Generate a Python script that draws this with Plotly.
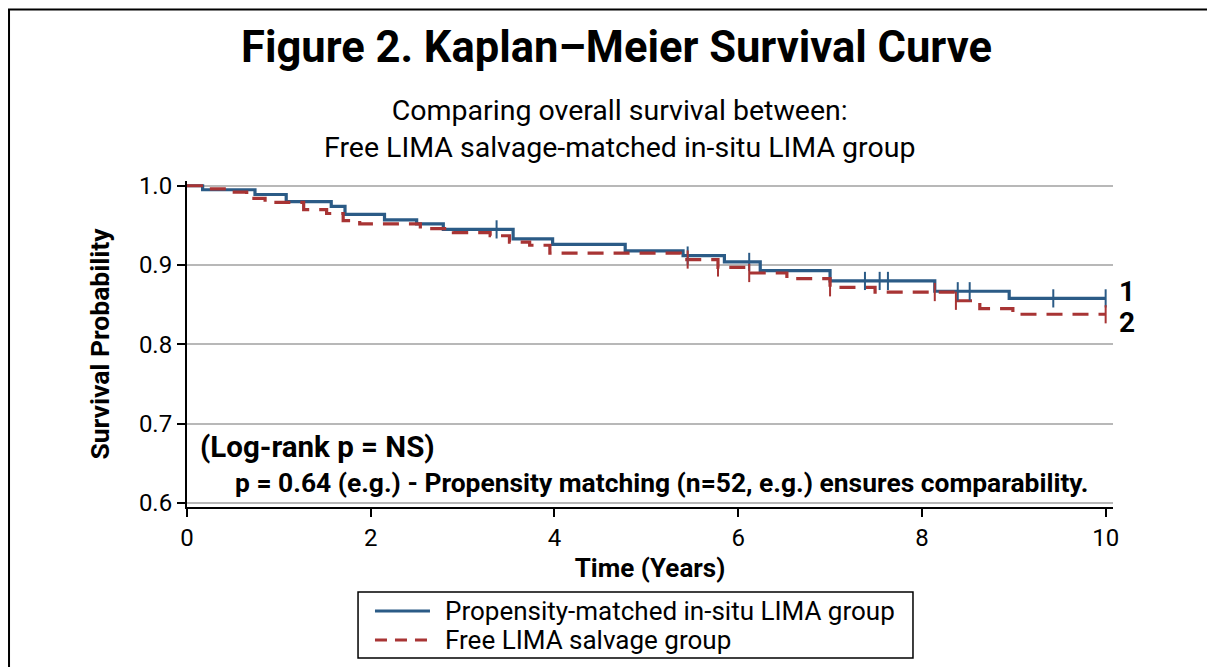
import plotly.graph_objects as go
import numpy as np

# ---- Data ----
group_a_name = "Propensity-matched in-situ LIMA group"
time_a = [0, 0.17, 0.74, 1.08, 1.57, 1.72, 2.15, 2.50, 2.79, 3.55, 3.98, 4.77, 5.40, 5.85, 6.24, 7.00, 8.14, 8.95, 10.0]
surv_a = [1.0, 0.995, 0.989, 0.980, 0.974, 0.964, 0.957, 0.952, 0.945, 0.933, 0.926, 0.918, 0.912, 0.904, 0.893, 0.880, 0.867, 0.858, 0.858]
cens_a = [3.37, 5.45, 6.12, 7.38, 7.54, 7.63, 8.39, 8.52, 9.43, 10.0]

group_b_name = "Free LIMA salvage group"
time_b = [0, 0.20, 0.43, 0.65, 0.85, 1.27, 1.52, 1.70, 1.88, 2.54, 2.90, 3.30, 3.51, 3.73, 3.95, 5.37, 5.78, 6.12, 6.53, 7.00, 7.49, 8.37, 8.63, 8.99, 10.0]
surv_b = [1.0, 0.996, 0.992, 0.984, 0.979, 0.970, 0.965, 0.956, 0.952, 0.946, 0.941, 0.937, 0.929, 0.925, 0.915, 0.907, 0.897, 0.890, 0.883, 0.872, 0.866, 0.855, 0.845, 0.838, 0.838]
cens_b = [5.45, 5.78, 6.12, 7.00, 8.14, 8.37, 10.0]

x_ticks = [0, 2, 4, 6, 8, 10]
y_ticks = [0.6, 0.7, 0.8, 0.9, 1.0]

BLUE = "#2b5b86"
RED = "#a83434"
DASH = "16px,10px"
FONT = "Roboto"


def step_value(times, surv, t):
    idx = np.searchsorted(np.array(times), t, side="right") - 1
    return surv[max(idx, 0)]


fig = go.Figure()
fig.add_trace(go.Scatter(x=time_a, y=surv_a, mode="lines", line_shape="hv",
                         line=dict(color=BLUE, width=3.2), name=group_a_name, showlegend=False))
fig.add_trace(go.Scatter(x=time_b, y=surv_b, mode="lines", line_shape="hv",
                         line=dict(color=RED, width=3.2, dash=DASH), name=group_b_name, showlegend=False))
fig.add_trace(go.Scatter(x=cens_a, y=[step_value(time_a, surv_a, t) for t in cens_a], mode="markers",
                         marker=dict(symbol="line-ns", size=13, line=dict(color=BLUE, width=2)),
                         showlegend=False, hoverinfo="skip"))
fig.add_trace(go.Scatter(x=cens_b, y=[step_value(time_b, surv_b, t) for t in cens_b], mode="markers",
                         marker=dict(symbol="line-ns", size=13, line=dict(color=RED, width=2)),
                         showlegend=False, hoverinfo="skip"))

fig.update_layout(
    width=1215, height=667,
    margin=dict(l=179, r=110, t=173, b=168, autoexpand=False),
    paper_bgcolor="white", plot_bgcolor="white",
    font=dict(family=FONT, color="black"),
    showlegend=False,
    title=dict(text="<b>Figure 2. Kaplan\u2013Meier Survival Curve</b>", x=0.5008, xanchor="center",
               y=0.9415, yanchor="middle", font=dict(size=43.5, family=FONT)),
    xaxis=dict(range=[0, 10.08], tickvals=x_ticks, showgrid=False, showline=True, linecolor="black",
               linewidth=2, ticks="outside", ticklen=8, tickwidth=2, tickcolor="black",
               tickfont=dict(size=24), zeroline=False, automargin=False,
               title=dict(text="<b>Time (Years)</b>", font=dict(size=26), standoff=8)),
    yaxis=dict(range=[0.595, 1.006], tickvals=y_ticks, tickformat=".1f", showgrid=True,
               gridcolor="#b8b8b8", gridwidth=1.5, showline=True, linecolor="black", linewidth=2,
               ticks="outside", ticklen=8, tickwidth=2, tickcolor="black", tickfont=dict(size=24),
               zeroline=False, automargin=False,
               title=dict(text="<b>Survival Probability</b>", font=dict(size=26.5), standoff=22)),
)

fig.add_annotation(text="Comparing overall survival between:<br>Free LIMA salvage-matched in-situ LIMA group",
                   xref="paper", yref="paper", x=0.4676, y=1.158, xanchor="center", yanchor="middle",
                   showarrow=False, font=dict(size=28.5), align="center")
fig.add_annotation(text="<b>(Log-rank p = NS)</b>", xref="paper", yref="paper", x=0.012, y=0.184,
                   xanchor="left", yanchor="middle", showarrow=False, font=dict(size=29.5))
fig.add_annotation(text="<b>p = 0.64 (e.g.) - Propensity matching (n=52, e.g.) ensures comparability.</b>",
                   xref="paper", yref="paper", x=0.0497, y=0.0736, xanchor="left", yanchor="middle",
                   showarrow=False, font=dict(size=26.4))
fig.add_annotation(text="<b>1</b>", xref="paper", yref="y", x=1.004, y=0.867, xanchor="left",
                   yanchor="middle", showarrow=False, font=dict(size=28))
fig.add_annotation(text="<b>2</b>", xref="paper", yref="y", x=1.004, y=0.827, xanchor="left",
                   yanchor="middle", showarrow=False, font=dict(size=28))

# ---- legend box below the plot (key lines + labels) ----
legend_entries = [(group_a_name, BLUE, "solid", -0.319), (group_b_name, RED, "12px,8px", -0.408)]
fig.add_shape(type="rect", xref="paper", yref="paper", x0=0.1847, x1=0.784, y0=-0.4632, y1=-0.2607,
              line=dict(color="black", width=1.5), fillcolor="white")
for name, color, dash, ypos in legend_entries:
    fig.add_shape(type="line", xref="paper", yref="paper", x0=0.2030, x1=0.2624, y0=ypos, y1=ypos,
                  line=dict(color=color, width=3, dash=dash))
    fig.add_annotation(text=name, xref="paper", yref="paper", x=0.2765, y=ypos, xanchor="left",
                       yanchor="middle", showarrow=False, font=dict(size=26))

# outer figure frame
fig.add_shape(type="rect", xref="paper", yref="paper", x0=-0.1922, x1=1.1177, y0=-0.5123, y1=1.526,
              line=dict(color="black", width=2), fillcolor="rgba(0,0,0,0)", layer="above")

fig.write_html("out.html")
